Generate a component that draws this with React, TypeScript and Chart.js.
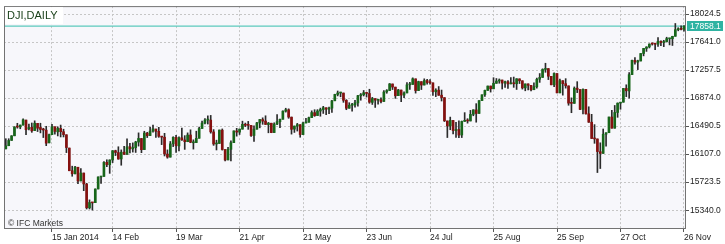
import React, { useEffect, useRef } from "react";
import { Chart, registerables } from "chart.js";

Chart.register(...registerables);

// Daily candles, 20 Dec 2013 .. 26 Nov 2014 (bar index 0..235)
const OPEN = [
  16179,16222,16295,16358,16480,16479,16505,16573,16456,16474,
  16429,16528,16472,16445,16435,16262,16374,16482,16412,16459,
  16414,16372,16190,15880,15838,15928,15740,15848,15697,15372,
  15443,15443,15630,15794,15802,15995,15962,16027,16154,16128,
  16041,16134,16104,16209,16180,16196,16272,16321,16169,16395,
  16361,16423,16450,16419,16349,16339,16108,16066,16248,16336,
  16219,16330,16301,16277,16369,16262,16265,16324,16458,16532,
  16573,16573,16411,16246,16253,16435,16170,16028,16173,16264,
  16424,16408,16449,16514,16503,16500,16362,16448,16534,16580,
  16560,16511,16530,16402,16519,16550,16584,16695,16714,16613,
  16449,16490,16510,16375,16533,16543,16607,16675,16635,16697,
  16717,16742,16722,16737,16837,16924,16943,16943,16843,16735,
  16776,16780,16808,16906,16920,16947,16937,16815,16867,16845,
  16852,16828,16958,16977,17067,17024,16907,16984,16915,16945,
  17056,17061,17137,16977,17099,17053,17114,17087,17082,16960,
  16983,16914,16880,16561,16493,16568,16429,16444,16369,16555,
  16569,16561,16652,16712,16664,16840,16919,16979,17039,17001,
  17076,17108,17121,17079,17098,17069,17080,17070,17137,17111,
  17014,17068,17049,16988,17029,17133,17157,17266,17278,17172,
  17056,17210,16946,17112,17071,17041,16808,16802,17010,16991,
  16719,16993,16659,16544,16321,16315,16140,16117,16380,16400,
  16615,16462,16677,16805,16818,17006,16972,17196,17390,17366,
  17382,17484,17554,17574,17615,17614,17612,17652,17634,17647,
  17686,17686,17720,17810,17818,17815,
];
const HIGH = [
  16318,16318,16360,16483,16529,16505,16589,16573,16519,16533,
  16563,16528,16530,16461,16488,16383,16514,16482,16480,16505,
  16448,16372,16190,15942,15941,15928,15908,15848,15708,15481,
  15443,15632,15798,15801,16006,16030,16029,16155,16161,16208,
  16165,16215,16318,16254,16261,16283,16398,16321,16420,16406,
  16477,16505,16450,16474,16349,16392,16165,16280,16345,16364,
  16345,16463,16360,16398,16440,16303,16421,16476,16559,16594,
  16631,16637,16443,16298,16437,16452,16170,16201,16288,16425,
  16460,16452,16558,16532,16555,16500,16493,16541,16581,16604,
  16632,16541,16530,16536,16650,16588,16700,16735,16727,16615,
  16492,16528,16510,16546,16597,16614,16700,16715,16716,16737,
  16761,16742,16750,16845,16927,16971,16955,16943,16853,16811,
  16803,16843,16912,16937,16978,16949,16995,16884,16867,16855,
  16877,16978,16990,17074,17067,17024,16994,16984,16959,17086,
  17088,17151,17137,17106,17099,17138,17131,17129,17082,17002,
  17032,16984,16880,16561,16614,16568,16542,16562,16560,16675,
  16592,16706,16714,16798,16840,16920,16982,17039,17039,17153,
  17142,17136,17121,17108,17115,17153,17162,17140,17137,17111,
  17068,17068,17049,17083,17148,17210,17275,17351,17278,17172,
  17221,17210,17135,17112,17140,17041,16877,17027,17099,16991,
  17000,16993,16755,16652,16511,16315,16262,16451,16400,16615,
  16705,16773,16808,16817,17006,17056,17222,17395,17428,17393,
  17484,17555,17577,17617,17629,17614,17701,17657,17665,17707,
  17686,17720,17895,17837,17864,17866,
];
const LOW = [
  16179,16222,16295,16358,16462,16454,16502,16375,16438,16405,
  16429,16416,16398,16334,16223,16262,16374,16380,16356,16342,
  16342,16128,15879,15804,15837,15703,15740,15607,15356,15356,
  15341,15443,15630,15707,15802,15935,15844,15991,16087,16037,
  15955,16103,16104,16122,16135,16130,16217,16127,16169,16334,
  16361,16406,16335,16337,16237,16082,16051,16066,16210,16131,
  16150,16296,16172,16277,16263,16176,16265,16324,16458,16519,
  16519,16394,16227,16164,16253,16162,16015,16028,16014,16264,
  16353,16376,16449,16484,16446,16348,16281,16448,16467,16515,
  16512,16399,16400,16402,16510,16470,16584,16682,16597,16381,
  16404,16423,16338,16375,16533,16543,16607,16624,16635,16626,
  16664,16647,16660,16678,16837,16904,16892,16816,16715,16735,
  16694,16751,16764,16845,16903,16888,16803,16787,16746,16792,
  16807,16828,16940,16977,16991,16870,16907,16825,16879,16945,
  16994,17061,16942,16977,16991,17053,17065,17064,16911,16894,
  16911,16834,16553,16334,16441,16383,16334,16333,16334,16555,
  16531,16561,16632,16544,16664,16840,16897,16979,16956,17001,
  17076,17077,16998,17021,17006,17068,17021,16992,17073,16997,
  16974,16986,16973,16988,17010,17089,17157,17227,17127,17055,
  17032,16945,16946,16914,17010,16776,16674,16802,16949,16716,
  16659,16654,16541,16321,16255,15855,15910,16117,16217,16400,
  16461,16462,16611,16721,16818,16894,16873,17196,17338,17264,
  17382,17452,17513,17560,17599,17535,17580,17592,17578,17641,
  17602,17594,17720,17795,17808,17791,
];
const CLOSE = [
  16221,16294,16357,16479,16478,16505,16577,16441,16470,16425,
  16530,16462,16444,16437,16257,16374,16482,16418,16459,16414,
  16374,16197,15880,15838,15929,15739,15849,15699,15373,15445,
  15440,15629,15794,15801,15994,15964,16027,16154,16130,16040,
  16133,16104,16207,16179,16198,16273,16322,16168,16396,16360,
  16422,16453,16419,16351,16340,16109,16066,16247,16337,16223,
  16331,16303,16277,16368,16269,16264,16323,16458,16533,16573,
  16573,16412,16246,16256,16437,16170,16027,16174,16263,16425,
  16409,16449,16515,16502,16501,16361,16448,16535,16581,16559,
  16513,16531,16402,16519,16551,16584,16696,16715,16614,16447,
  16491,16511,16375,16533,16543,16606,16676,16634,16698,16717,
  16743,16723,16738,16836,16924,16944,16946,16844,16735,16776,
  16782,16809,16907,16921,16948,16938,16818,16868,16846,16852,
  16827,16957,16977,17068,17025,16906,16985,16915,16944,17055,
  17060,17138,16977,17100,17052,17114,17087,17084,16961,16983,
  16913,16881,16563,16493,16569,16430,16444,16368,16554,16570,
  16561,16651,16713,16663,16839,16919,16979,17039,17001,17077,
  17107,17122,17080,17098,17068,17079,17070,17138,17111,17014,
  17068,17049,16988,17031,17132,17157,17266,17280,17173,17056,
  17211,16946,17113,17071,17043,16805,16802,17009,16992,16720,
  16994,16659,16544,16321,16315,16142,16117,16380,16400,16615,
  16462,16677,16805,16818,17006,16974,17195,17391,17367,17384,
  17484,17554,17573,17613,17614,17612,17652,17635,17648,17688,
  17686,17720,17810,17818,17815,17858.1,
];

// x-axis date labels and the bar index they sit on
const TICK_INDEX = [16, 37, 59, 81, 103, 125, 147, 169, 191, 213, 235];
const TICK_LABELS = ["15 Jan 2014", "14 Feb", "19 Mar", "21 Apr", "21 May", "23 Jun", "24 Jul", "25 Aug", "25 Sep", "27 Oct", "26 Nov"];
// y-axis price labels
const PRICE_TICKS = [15340.0, 15723.5, 16107.0, 16490.5, 16874.0, 17257.5, 17641.0, 18024.5];
const LAST_PRICE = 17858.1;
const TITLE = "DJI,DAILY";
const WATERMARK = "\u00A9 IFC Markets";

const X_MIN = -0.63;
const X_MAX = 235.35;
const Y_MIN = 15096;
const Y_MAX = 18133;

const SMALL = "'Liberation Sans', Arial, sans-serif";
const SMALL_SIZE = 8.5;
const BULL = "#17661a";
const BEAR = "#85100f";
const WICK = "#2b2b2b";
const TEAL_LINE = "#5ccabd";
const TEAL_BOX = "#2fb3a2";

const overlayPlugin = {
  id: "overlay",
  beforeDraw(chart: any) {
    const { ctx, chartArea: a, width, height } = chart;
    ctx.save();
    ctx.fillStyle = "#ffffff";
    ctx.fillRect(0, 0, width, height);
    ctx.fillStyle = "#f7f7fb";
    ctx.fillRect(a.left, a.top, a.right - a.left, a.bottom - a.top);
    ctx.restore();
  },
  afterDraw(chart: any) {
    const { ctx, chartArea: a } = chart;
    const py = chart.scales.y.getPixelForValue(LAST_PRICE);
    ctx.save();
    // frame
    ctx.strokeStyle = "#737373";
    ctx.lineWidth = 1;
    ctx.strokeRect(a.left + 0.5, a.top + 0.5, a.right - a.left, a.bottom - a.top);
    // title box
    ctx.fillStyle = "#ffffff";
    ctx.fillRect(a.left + 1, a.top + 1, 58, 17);
    ctx.fillStyle = "#153d15";
    ctx.font = "11px 'Liberation Sans', Arial, sans-serif";
    ctx.textBaseline = "alphabetic";
    ctx.textAlign = "left";
    ctx.fillText(TITLE, a.left + 3, a.top + 13);
    // watermark
    ctx.fillStyle = "#333333";
    ctx.font = `${SMALL_SIZE}px ${SMALL}`;
    ctx.fillText(WATERMARK, a.left + 4, a.bottom - 2);
    // last price box
    const bx = a.right + 2;
    ctx.fillStyle = TEAL_BOX;
    ctx.fillRect(bx, Math.round(py) - 5, 36, 10);
    ctx.fillStyle = "#ffffff";
    ctx.font = `${SMALL_SIZE}px ${SMALL}`;
    ctx.textBaseline = "middle";
    ctx.textAlign = "left";
    ctx.fillText(LAST_PRICE.toFixed(1), bx + 3, Math.round(py) + 0.5);
    ctx.restore();
  },
};

export default function App() {
  const ref = useRef<HTMLCanvasElement | null>(null);
  useEffect(() => {
    if (!ref.current) return;
    const idx = CLOSE.map((_, i) => i);
    const wicks = idx.map((i) => ({ x: i, y: [LOW[i], HIGH[i]] }));
    const bodies = idx.map((i) => ({ x: i, y: [OPEN[i], CLOSE[i]] }));
    const bodyColors = idx.map((i) => (CLOSE[i] >= OPEN[i] ? BULL : BEAR));
    const chart = new Chart(ref.current, {
      type: "bar",
      data: {
        datasets: [
          {
            type: "line",
            data: [
              { x: X_MIN, y: LAST_PRICE },
              { x: X_MAX, y: LAST_PRICE },
            ],
            borderColor: TEAL_LINE,
            borderWidth: 1.3,
            pointRadius: 0,
            order: 3,
          } as any,
          {
            data: wicks as any,
            backgroundColor: WICK,
            barThickness: 1,
            grouped: false,
            order: 2,
          } as any,
          {
            data: bodies as any,
            backgroundColor: bodyColors,
            barThickness: 2,
            minBarLength: 1,
            grouped: false,
            order: 1,
          } as any,
        ],
      },
      options: {
        animation: false,
        responsive: false,
        events: [],
        layout: { padding: { left: 4, top: 4, right: 0, bottom: 0 } },
        plugins: { legend: { display: false }, tooltip: { enabled: false } },
        scales: {
          x: {
            type: "linear",
            offset: false,
            min: X_MIN,
            max: X_MAX,
            afterBuildTicks: (s: any) => {
              s.ticks = TICK_INDEX.map((v) => ({ value: v }));
            },
            afterFit: (s: any) => {
              s.height = 16;
            },
            ticks: {
              autoSkip: false,
              maxRotation: 0,
              minRotation: 0,
              align: "start",
              padding: 1,
              color: "#222222",
              font: { family: SMALL, size: SMALL_SIZE },
              callback: (_v: any, i: number) => TICK_LABELS[i],
            },
            grid: {
              offset: false,
              color: "#c6c6c6",
              lineWidth: 1,
              tickLength: 4,
              tickColor: "#555555",
            },
            border: { display: false, dash: [2, 2] },
          },
          y: {
            position: "right",
            min: Y_MIN,
            max: Y_MAX,
            afterBuildTicks: (s: any) => {
              s.ticks = PRICE_TICKS.map((v) => ({ value: v }));
            },
            afterFit: (s: any) => {
              s.width = 40;
            },
            ticks: {
              padding: 1,
              color: "#222222",
              font: { family: SMALL, size: SMALL_SIZE },
              callback: (v: any) => Number(v).toFixed(1),
            },
            grid: {
              color: "#c6c6c6",
              lineWidth: 1,
              tickLength: 4,
              tickColor: "#555555",
            },
            border: { display: false, dash: [2, 2] },
          },
        },
      },
      plugins: [overlayPlugin],
    });
    return () => chart.destroy();
  }, []);
  return (
    <div style={{ position: "fixed", left: 0, top: 0, width: 725, height: 244 }}>
      <canvas ref={ref} width={725} height={244} style={{ display: "block" }} />
    </div>
  );
}
